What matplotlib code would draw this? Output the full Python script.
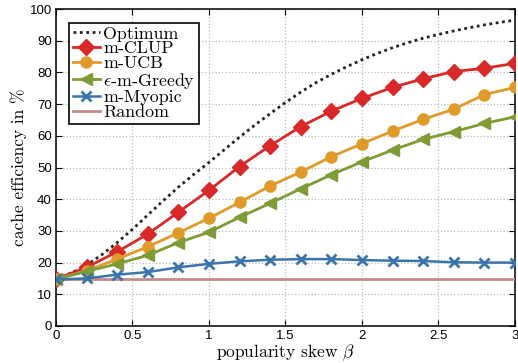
import numpy as np
import matplotlib
matplotlib.use("Agg")
import matplotlib.pyplot as plt

plt.rcParams['mathtext.fontset'] = 'cm'
plt.rcParams['font.family'] = ['Liberation Sans', 'DejaVu Sans']

beta = [0, 0.2, 0.4, 0.6, 0.8, 1.0, 1.2, 1.4, 1.6, 1.8, 2.0, 2.2, 2.4, 2.6, 2.8, 3.0]
clup = [14.8, 18.5, 23.4, 29.0, 35.9, 42.8, 50.3, 56.9, 62.9, 67.8, 71.8, 75.3, 78.0, 80.3, 81.3, 82.9]
ucb = [14.8, 17.4, 21.1, 25.0, 29.4, 34.0, 39.0, 44.2, 48.6, 53.4, 57.5, 61.5, 65.2, 68.4, 73.0, 75.3]
greedy = [14.8, 17.2, 19.6, 22.3, 26.3, 29.6, 34.3, 38.7, 43.3, 47.7, 51.8, 55.5, 58.9, 61.3, 63.9, 66.0]
myopic = [14.7, 15.0, 16.2, 17.0, 18.5, 19.6, 20.4, 20.9, 21.1, 21.1, 20.8, 20.6, 20.5, 20.1, 20.0, 20.0]

beta_opt = [0, 0.1, 0.2, 0.3, 0.4, 0.5, 0.6, 0.7, 0.8, 0.9, 1.0, 1.1, 1.2, 1.3, 1.4, 1.5,
            1.6, 1.7, 1.8, 1.9, 2.0, 2.1, 2.2, 2.3, 2.4, 2.5, 2.6, 2.7, 2.8, 2.9, 3.0]
optimum = [15.0, 16.7, 19.2, 22.5, 26.3, 30.5, 35.0, 39.5, 43.8, 47.8, 51.6, 55.6, 59.6, 63.4, 67.0, 70.5,
           73.8, 76.8, 79.4, 81.8, 84.0, 86.0, 87.8, 89.4, 90.8, 92.0, 93.1, 94.1, 95.0, 95.8, 96.5]

beta_rand = [0, 0.5, 1.0, 1.5, 2.0, 2.5, 3.0]
random_ = [14.9, 14.9, 14.9, 14.9, 14.9, 14.9, 14.9]

xticks = [0, 0.5, 1, 1.5, 2, 2.5, 3]
xticklabels = ['0', '0.5', '1', '1.5', '2', '2.5', '3']
yticks = list(range(0, 101, 10))

fig = plt.figure(figsize=(5.18, 3.63), dpi=100)
ax = fig.add_axes([0.108, 0.102, 0.886, 0.873])

ax.plot(beta_opt, optimum, color='#222222', ls=(0, (1, 1.3)), lw=2, label='Optimum', zorder=3)
ax.plot(beta, clup, color='#d92828', lw=2, marker='D', ms=8, label='m-CLUP', zorder=4)
ax.plot(beta, ucb, color='#e09a2a', lw=2, marker='o', ms=8, label='m-UCB', zorder=4)
ax.plot(beta, greedy, color='#7f9b36', lw=2, marker='<', ms=9, label=r'$\epsilon$-m-Greedy', zorder=4)
ax.plot(beta, myopic, color='#3b74ab', lw=1.8, marker='x', ms=7, mew=2, label='m-Myopic', zorder=4)
ax.plot(beta_rand, random_, color='#c48b8b', lw=2, label='Random', zorder=3)

ax.set_xlim(0, 3)
ax.set_ylim(0, 100)
ax.set_xticks(xticks)
ax.set_xticklabels(xticklabels)
ax.set_yticks(yticks)
ax.tick_params(direction='in', top=True, right=True, labelsize=9.5, length=4, pad=3)
ax.grid(True, ls=':', color='#bbbbbb', lw=0.9)
for s in ax.spines.values():
    s.set_linewidth(1.1)

ax.set_xlabel(r'popularity skew $\beta$', fontsize=12.5, family='cmr10', labelpad=0)
ax.set_ylabel(r'cache efficiency in %', fontsize=12.5, family='cmr10', labelpad=2)

leg = ax.legend(loc='upper left', bbox_to_anchor=(0.0, 1.0), prop={'family': 'cmr10', 'size': 12.9},
                handlelength=1.5, handletextpad=0.2, labelspacing=-0.04, borderpad=0.2,
                borderaxespad=0.75, fancybox=False, framealpha=1, edgecolor='black')
leg.get_frame().set_linewidth(1.2)

fig.savefig('out.png', dpi=100)
